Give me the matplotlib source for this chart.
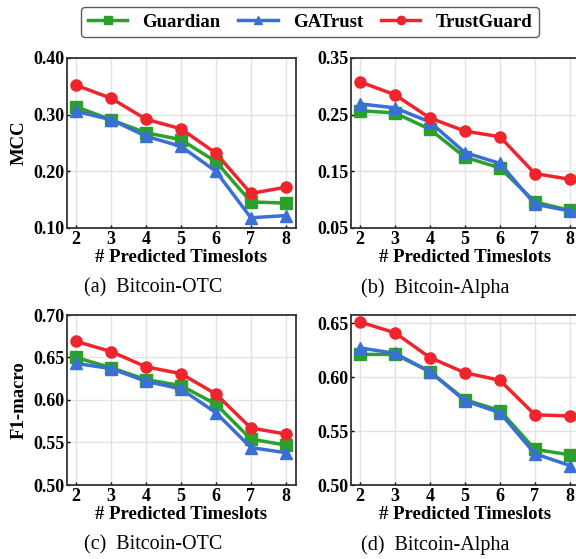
import matplotlib
matplotlib.use("Agg")
import matplotlib.pyplot as plt
from matplotlib.lines import Line2D

plt.rcParams['font.family'] = ['Liberation Serif', 'DejaVu Serif']

timeslots = [2, 3, 4, 5, 6, 7, 8]
methods = ["Guardian", "GATrust", "TrustGuard"]

# MCC, Bitcoin-OTC
mcc_otc_guardian = [0.314, 0.291, 0.268, 0.256, 0.217, 0.146, 0.144]
mcc_otc_gatrust = [0.306, 0.291, 0.262, 0.244, 0.200, 0.118, 0.122]
mcc_otc_trustguard = [0.352, 0.329, 0.292, 0.275, 0.232, 0.161, 0.172]
# MCC, Bitcoin-Alpha
mcc_alpha_guardian = [0.257, 0.253, 0.224, 0.175, 0.156, 0.096, 0.081]
mcc_alpha_gatrust = [0.269, 0.262, 0.237, 0.183, 0.164, 0.092, 0.080]
mcc_alpha_trustguard = [0.308, 0.285, 0.244, 0.221, 0.211, 0.146, 0.136]
# F1-macro, Bitcoin-OTC
f1_otc_guardian = [0.650, 0.638, 0.624, 0.617, 0.595, 0.554, 0.547]
f1_otc_gatrust = [0.643, 0.637, 0.622, 0.613, 0.585, 0.544, 0.538]
f1_otc_trustguard = [0.669, 0.657, 0.639, 0.631, 0.607, 0.567, 0.560]
# F1-macro, Bitcoin-Alpha
f1_alpha_guardian = [0.621, 0.621, 0.605, 0.579, 0.569, 0.533, 0.528]
f1_alpha_gatrust = [0.627, 0.622, 0.605, 0.578, 0.567, 0.529, 0.518]
f1_alpha_trustguard = [0.651, 0.641, 0.618, 0.604, 0.597, 0.565, 0.564]

yticks_mcc_otc = [0.10, 0.20, 0.30, 0.40]
yticks_mcc_alpha = [0.05, 0.15, 0.25, 0.35]
yticks_f1_otc = [0.50, 0.55, 0.60, 0.65, 0.70]
yticks_f1_alpha = [0.50, 0.55, 0.60, 0.65]

captions = ["(a)  Bitcoin-OTC", "(b)  Bitcoin-Alpha", "(c)  Bitcoin-OTC", "(d)  Bitcoin-Alpha"]

colors = {"Guardian": "#2ca02c", "GATrust": "#3a6fd6", "TrustGuard": "#f0242c"}
markers = {"Guardian": "s", "GATrust": "^", "TrustGuard": "o"}

fig = plt.figure(figsize=(5.76, 5.59), dpi=100)
W, H = 576, 559

def make_ax(l, t, r, b):
    return fig.add_axes([l / W, 1 - b / H, (r - l) / W, (b - t) / H])

axes = [
    make_ax(67, 58, 296, 228),
    make_ax(351, 58, 580, 228),
    make_ax(67, 315, 296, 485),
    make_ax(351, 315, 580, 485),
]

panels = [
    ([mcc_otc_guardian, mcc_otc_gatrust, mcc_otc_trustguard], yticks_mcc_otc, (0.10, 0.40), "MCC", "{:.2f}"),
    ([mcc_alpha_guardian, mcc_alpha_gatrust, mcc_alpha_trustguard], yticks_mcc_alpha, (0.05, 0.35), None, "{:.2f}"),
    ([f1_otc_guardian, f1_otc_gatrust, f1_otc_trustguard], yticks_f1_otc, (0.50, 0.70), "F1-macro", "{:.2f}"),
    ([f1_alpha_guardian, f1_alpha_gatrust, f1_alpha_trustguard], yticks_f1_alpha, (0.50, 0.6575), None, "{:.2f}"),
]

for ax, (series, yt, ylim, ylabel, fmt) in zip(axes, panels):
    for name, vals in zip(methods, series):
        ax.plot(timeslots, vals, color=colors[name], marker=markers[name],
                markersize=8, linewidth=2.5, label=name)
    ax.set_xlim(1.74, 8.29)
    ax.set_ylim(*ylim)
    ax.set_xticks(timeslots)
    ax.set_yticks(yt)
    ax.set_yticklabels([fmt.format(v) for v in yt])
    ax.grid(True, color="#e3e3e3", linewidth=1.0)
    ax.set_axisbelow(True)
    ax.tick_params(direction="in", length=2, width=1, pad=2, labelsize=13)
    for lab in ax.get_xticklabels() + ax.get_yticklabels():
        lab.set_fontweight("bold")
    for sp in ax.spines.values():
        sp.set_color("#333333")
        sp.set_linewidth(1.3)
    ax.set_xlabel("# Predicted Timeslots", fontsize=13.5, fontweight="bold", labelpad=1)
    if ylabel:
        ax.set_ylabel(ylabel, fontsize=13.5, fontweight="bold", labelpad=4)

cap_pos = [(153, 288), (435, 288), (153, 545), (435, 545)]
for (cx, cy), txt in zip(cap_pos, captions):
    fig.text(cx / W, 1 - cy / H, txt, ha="center", va="center", fontsize=14.5)

handles = [Line2D([0], [0], color=colors[m], marker=markers[m], markersize=6,
                  linewidth=2.5) for m in methods]
leg = fig.legend(handles, methods, loc="center", bbox_to_anchor=(310 / W, 1 - 22 / H),
                 ncol=3, frameon=True, prop={"weight": "bold", "size": 13.5},
                 handlelength=2.1, columnspacing=0.95, handletextpad=0.8,
                 borderpad=0.35, borderaxespad=0, fancybox=True)
leg.get_frame().set_edgecolor("#333333")
leg.get_frame().set_linewidth(1.0)

fig.savefig("out.png", dpi=100)
